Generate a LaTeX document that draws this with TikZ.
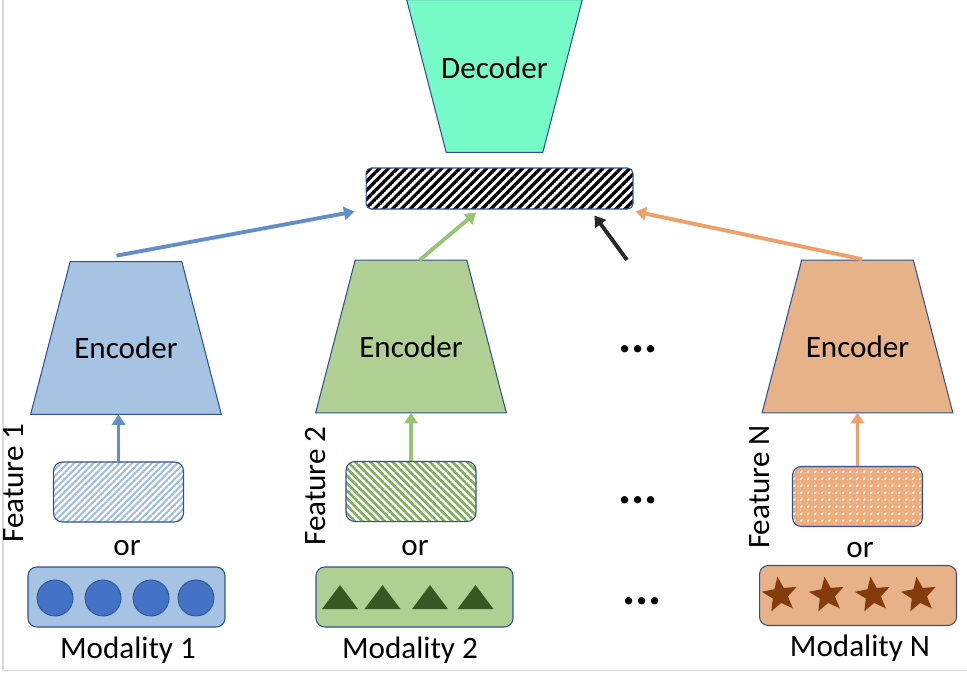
\documentclass[tikz,border=0pt]{standalone}
\usepackage{fontspec}
\setmainfont{Carlito}
\usepackage{tikz}
\usetikzlibrary{arrows.meta, shapes.geometric, patterns.meta, backgrounds}
\definecolor{encblue}{RGB}{166,195,228}
\definecolor{encgreen}{RGB}{175,208,146}
\definecolor{encorange}{RGB}{232,178,137}
\definecolor{decfill}{RGB}{118,250,200}
\definecolor{edgeblue}{RGB}{47,82,143}
\definecolor{arrowblue}{RGB}{98,143,201}
\definecolor{arrowgreen}{RGB}{151,195,115}
\definecolor{arroworange}{RGB}{237,160,105}
\definecolor{arrowdark}{RGB}{40,40,40}
\definecolor{dotblue}{RGB}{68,114,196}
\definecolor{trigreen}{RGB}{56,87,35}
\definecolor{starbrown}{RGB}{132,60,12}
\definecolor{hatchblue}{RGB}{160,190,226}
\definecolor{hatchgreen}{RGB}{125,176,88}
\definecolor{hatchorange}{RGB}{236,172,124}
\definecolor{framegray}{RGB}{215,215,215}

% striped and lattice fills
\tikzdeclarepattern{
  name=stripes,
  parameters={\pgfkeysvalueof{/pgf/pattern keys/size},
    \pgfkeysvalueof{/pgf/pattern keys/angle},
    \pgfkeysvalueof{/pgf/pattern keys/line width}},
  bounding box={(0pt,-0.5*\pgfkeysvalueof{/pgf/pattern keys/line width}) and
    (\pgfkeysvalueof{/pgf/pattern keys/size},0.5*\pgfkeysvalueof{/pgf/pattern keys/line width})},
  tile size={(\pgfkeysvalueof{/pgf/pattern keys/size},\pgfkeysvalueof{/pgf/pattern keys/size})},
  tile transformation={rotate=\pgfkeysvalueof{/pgf/pattern keys/angle}},
  defaults={size/.initial=4pt, angle/.initial=45, line width/.initial=1pt},
  code={\draw[line width=\pgfkeysvalueof{/pgf/pattern keys/line width}]
    (0pt,0pt) -- (\pgfkeysvalueof{/pgf/pattern keys/size},0pt);}
}
\tikzdeclarepattern{
  name=lattice,
  parameters={\pgfkeysvalueof{/pgf/pattern keys/size},
    \pgfkeysvalueof{/pgf/pattern keys/line width}},
  bounding box={(0pt,0pt) and
    (\pgfkeysvalueof{/pgf/pattern keys/size},\pgfkeysvalueof{/pgf/pattern keys/size})},
  tile size={(\pgfkeysvalueof{/pgf/pattern keys/size},\pgfkeysvalueof{/pgf/pattern keys/size})},
  defaults={size/.initial=4pt, line width/.initial=2pt},
  code={
    \fill (0pt,0pt) rectangle (\pgfkeysvalueof{/pgf/pattern keys/line width},\pgfkeysvalueof{/pgf/pattern keys/size});
    \fill (0pt,0pt) rectangle (\pgfkeysvalueof{/pgf/pattern keys/size},\pgfkeysvalueof{/pgf/pattern keys/line width});}
}

\begin{document}
\begin{tikzpicture}[
    x=0.02cm, y=-0.02cm,
    font=\fontsize{17.7}{21}\selectfont,
    edge/.style={draw=edgeblue, line width=0.6pt},
    enc/.style={minimum width=3.8cm, minimum height=3.04cm, inner sep=0pt, text height=0.84cm},
    dec/.style={minimum width=3.5cm, minimum height=3.04cm, inner sep=0pt, text depth=0.34cm},
    box/.style={edge, rounded corners=5pt, inner sep=0pt},
    feat/.style={box, minimum width=2.6cm, minimum height=1.2cm, preaction={fill=white}},
    modal/.style={box, minimum width=3.94cm, minimum height=1.2cm},
    arrow/.style={-{Triangle[length=6pt, width=7.5pt]}, line width=2.2pt},
    dot/.style={circle, draw=edgeblue, line width=0.5pt, fill=dotblue, minimum size=0.72cm, inner sep=0pt},
    starmark/.style={star, star points=5, star point ratio=2.3, minimum size=0.74cm, inner sep=0pt, fill=starbrown, rotate=8},
    trimark/.style={fill=trigreen},
    more/.style={font=\fontsize{28}{32}\selectfont\bfseries}
]
    \useasboundingbox (0,0) rectangle (967,673);
    \draw[framegray, line width=0.8pt] (3,0) -- (3,670.5) -- (967,670.5);

    % decoder and fused feature
    \node[dec] (dec) at (494.5,76) {Decoder};
    \node[box, rounded corners=3pt, minimum width=5.34cm, minimum height=0.82cm,
      preaction={fill=white}, pattern={stripes[size=3.6pt, angle=45, line width=1.9pt]},
      pattern color=black] (fused) at (499.5,188.5) {};

    % encoders
    \node[enc] (enc1) at (126,338) {Encoder};
    \node[enc] (enc2) at (411,336.5) {Encoder};
    \node[enc] (encN) at (857.5,336.5) {Encoder};

    \begin{scope}[on background layer]
      \foreach \n/\c in {enc1/encblue, enc2/encgreen, encN/encorange}
        \draw[edge, fill=\c] (\n.south west) -- (\n.south east)
          -- ([shift={(-39.5,0)}]\n.north east) -- ([shift={(39.5,0)}]\n.north west) -- cycle;
      \draw[edge, fill=decfill] (dec.north west) -- (dec.north east)
        -- ([shift={(-39.5,0)}]dec.south east) -- ([shift={(39.5,0)}]dec.south west) -- cycle;
    \end{scope}

    % features
    \node[feat, pattern={stripes[size=2.6pt, angle=45, line width=1.2pt]}, pattern color=hatchblue] (feat1) at (118.5,492) {};
    \node[feat, pattern={stripes[size=3pt, angle=-45, line width=1.5pt]}, pattern color=hatchgreen] (feat2) at (411,491.5) {};
    \node[feat, pattern={lattice[size=4.2pt, line width=2.5pt]}, pattern color=hatchorange] (featN) at (857.5,496.5) {};

    \node[rotate=90] (lab1) at (14,483) {Feature 1};
    \node[rotate=90] (lab2) at (316,486) {Feature 2};
    \node[rotate=90] (labN) at (760,487) {Feature N};

    \node (or1) at (127,548) {or};
    \node (or2) at (415,548) {or};
    \node (orN) at (860,550) {or};

    % modalities
    \node[modal, fill=encblue] (mod1) at (126.5,597) {};
    \node[modal, fill=encgreen] (mod2) at (414.5,597) {};
    \node[modal, fill=encorange] (modN) at (858,595.5) {};
    \foreach \cx in {55,103,151,196}
      \node[dot] (c\cx) at (\cx,598) {};
    \foreach \tx in {340,382.5,430,475.5}
      \fill[trimark] (\tx-18,609) -- (\tx+18,609) -- (\tx,585) -- cycle;
    \foreach \sx in {780,827,873,919}
      \node[starmark] (s\sx) at (\sx,595) {};

    \node (name1) at (128,650) {Modality 1};
    \node (name2) at (410,650) {Modality 2};
    \node (nameN) at (860,648) {Modality N};

    \node[more] (more1) at (638,349) {...};
    \node[more] (more2) at (638,500) {...};
    \node[more] (more3) at (642,601) {...};

    % arrows
    \coordinate (gap) at (627,260);
    \draw[arrow, arrowblue] (feat1.north) -- (feat1.north |- enc1.south);
    \draw[arrow, arrowgreen] (feat2.north) -- (feat2.north |- enc2.south);
    \draw[arrow, arroworange] (featN.north) -- (featN.north |- encN.south);
    \draw[arrow, arrowblue] ([shift={(-9.5,-6)}]enc1.north) -- ([shift={(-11,2)}]fused.south west);
    \draw[arrow, arrowgreen] ([shift={(8.5,0)}]enc2.north) -- ([shift={(-23.5,3)}]fused.south);
    \draw[arrow, arrowdark] (gap) -- ([shift={(-39,6)}]fused.south east);
    \draw[arrow, arroworange] ([shift={(4.5,-1)}]encN.north) -- ([shift={(2,2)}]fused.south east);
\end{tikzpicture}
\end{document}
